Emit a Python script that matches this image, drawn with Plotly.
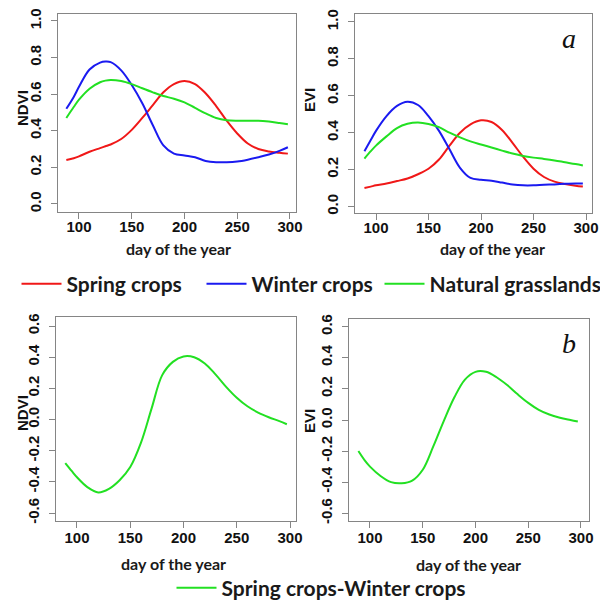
import plotly.graph_objects as go

# ---------------- data ----------------
days_top = [88, 95, 100, 110, 120, 125, 130, 140, 150, 160, 170, 180, 190, 200,
            210, 220, 230, 240, 250, 260, 270, 280, 290, 298]

ndvi_spring = [0.24, 0.25, 0.26, 0.285, 0.305, 0.315, 0.325, 0.355, 0.405, 0.47, 0.54, 0.61,
               0.655, 0.672, 0.655, 0.605, 0.535, 0.455, 0.385, 0.33, 0.30, 0.287, 0.28, 0.275]
ndvi_winter = [0.52, 0.585, 0.64, 0.735, 0.772, 0.778, 0.775, 0.73, 0.65, 0.55, 0.43, 0.32,
               0.275, 0.265, 0.255, 0.235, 0.228, 0.228, 0.232, 0.242, 0.255, 0.27, 0.29, 0.31]
ndvi_grass = [0.47, 0.53, 0.57, 0.63, 0.665, 0.674, 0.678, 0.672, 0.655, 0.632, 0.61, 0.59,
              0.575, 0.555, 0.525, 0.495, 0.47, 0.458, 0.455, 0.455, 0.455, 0.45, 0.442, 0.435]

days_evi = [89, 95, 100, 110, 120, 130, 140, 150, 160, 170, 180, 190, 200,
            210, 220, 230, 240, 250, 260, 270, 280, 290, 297]

evi_spring = [0.10, 0.108, 0.115, 0.125, 0.138, 0.152, 0.175, 0.205, 0.255, 0.33, 0.40, 0.445,
              0.467, 0.458, 0.415, 0.345, 0.27, 0.205, 0.16, 0.135, 0.122, 0.113, 0.108]
evi_winter = [0.30, 0.36, 0.41, 0.49, 0.545, 0.568, 0.55, 0.49, 0.41, 0.31, 0.21, 0.155,
              0.145, 0.14, 0.13, 0.12, 0.115, 0.115, 0.118, 0.12, 0.123, 0.125, 0.125]
evi_grass = [0.26, 0.30, 0.33, 0.38, 0.425, 0.448, 0.455, 0.447, 0.43, 0.40, 0.375, 0.353,
             0.336, 0.32, 0.303, 0.287, 0.274, 0.265, 0.258, 0.25, 0.24, 0.23, 0.222]

days_diff = [89, 95, 100, 110, 120, 130, 140, 150, 160, 170, 180, 190, 200,
             210, 220, 230, 240, 250, 260, 270, 280, 290, 297]
ndvi_diff = [-0.28, -0.33, -0.37, -0.435, -0.468, -0.445, -0.39, -0.305, -0.15, 0.07, 0.285,
             0.37, 0.405, 0.40, 0.36, 0.29, 0.21, 0.14, 0.085, 0.045, 0.015, -0.01, -0.03]
evi_diff = [-0.20, -0.26, -0.30, -0.36, -0.40, -0.407, -0.39, -0.32, -0.17, -0.005, 0.146,
            0.26, 0.31, 0.31, 0.275, 0.225, 0.165, 0.11, 0.065, 0.035, 0.015, 0.0, -0.01]

x_ticks = [100, 150, 200, 250, 300]
y_ticks_top = [0.0, 0.2, 0.4, 0.6, 0.8, 1.0]
y_ticks_top_text = ["0.0", "0.2", "0.4", "0.6", "0.8", "1.0"]
y_ticks_bot = [-0.6, -0.4, -0.2, 0.0, 0.2, 0.4, 0.6]
y_ticks_bot_text = ["-0.6", "-0.4", "-0.2", "0.0", "0.2", "0.4", "0.6"]

RED, BLUE, GREEN = "#f01818", "#1a1af0", "#22e022"

# the page body has an 8px default margin, so the figure is drawn 8px in from the window corner
OFF = 8
W, H = 608 - OFF, 601 - OFF

fig = go.Figure()

def add(x, y, color, name, xa, ya, legend, show):
    fig.add_trace(go.Scatter(x=x, y=y, mode="lines", name=name,
                             line=dict(color=color, width=2, shape="spline", smoothing=1.0),
                             xaxis=xa, yaxis=ya, legend=legend, showlegend=show))

add(days_top, ndvi_spring, RED, "Spring crops", "x", "y", "legend", True)
add(days_top, ndvi_winter, BLUE, "Winter crops", "x", "y", "legend2", True)
add(days_top, ndvi_grass, GREEN, "Natural grasslands", "x", "y", "legend3", True)
add(days_evi, evi_spring, RED, "Spring crops", "x2", "y2", "legend", False)
add(days_evi, evi_winter, BLUE, "Winter crops", "x2", "y2", "legend2", False)
add(days_evi, evi_grass, GREEN, "Natural grasslands", "x2", "y2", "legend3", False)
add(days_diff, ndvi_diff, GREEN, "Spring crops-Winter crops", "x3", "y3", "legend4", True)
add(days_diff, evi_diff, GREEN, "Spring crops-Winter crops", "x4", "y4", "legend4", False)

AXC = "#858585"
tickfont = dict(family="Liberation Sans, Arial", size=15, color="#111", weight="bold")

def xax(domain, rng, anchor, standoff):
    return dict(domain=domain, range=rng, anchor=anchor, tickvals=x_ticks,
                showline=True, linecolor=AXC, linewidth=1, mirror=True,
                ticks="outside", ticklen=6, tickcolor=AXC, tickfont=tickfont,
                showgrid=False, zeroline=False, automargin=False,
                ticklabelstandoff=standoff)

def yax(domain, rng, anchor, tv, tt):
    return dict(domain=domain, range=rng, anchor=anchor, tickvals=tv, ticktext=tt,
                showline=True, linecolor=AXC, linewidth=1, mirror=True,
                ticks="outside", ticklen=6, tickcolor=AXC, tickfont=tickfont,
                tickangle=-90, showgrid=False, zeroline=False, ticklabelstandoff=4,
                automargin=False)

def px(v):
    return (v - OFF) / W

def py(v):
    return 1 - (v - OFF) / H

def fx(a, b):
    return [px(a), px(b)]

def fy(top, bottom):
    return [py(bottom), py(top)]

legfont = dict(family="Lato", size=21, color="#1a1a1a", weight="bold")

def leg(xpix, ypix):
    return dict(orientation="h", x=px(xpix), xanchor="left", y=py(ypix), yanchor="middle",
                font=legfont, itemwidth=40, bgcolor="rgba(0,0,0,0)")

fig.update_layout(
    width=W, height=H,
    margin=dict(l=0, r=0, t=0, b=0, autoexpand=False),
    paper_bgcolor="white", plot_bgcolor="white",
    xaxis=xax(fx(58, 296), [80.1, 305.7], "y", -5),
    yaxis=yax(fy(14, 212), [-0.044, 1.038], "x", y_ticks_top, y_ticks_top_text),
    xaxis2=xax(fx(355, 592), [80.0, 305.7], "y2", -5),
    yaxis2=yax(fy(14, 213), [-0.035, 1.043], "x2", y_ticks_top, y_ticks_top_text),
    xaxis3=xax(fx(56, 296), [80.3, 305.6], "y3", -3),
    yaxis3=yax(fy(317, 521), [-0.651, 0.658], "x3", y_ticks_bot, y_ticks_bot_text),
    xaxis4=xax(fx(349, 589), [80.1, 307.6], "y4", -3),
    yaxis4=yax(fy(319, 521), [-0.65, 0.65], "x4", y_ticks_bot, y_ticks_bot_text),
    legend=leg(16.5, 284),
    legend2=leg(201.5, 284),
    legend3=leg(379.5, 284),
    legend4=leg(171.5, 588),
)

lab = dict(family="Lato", size=16, color="#1a1a1a", weight="bold")
ylab = dict(family="Liberation Sans, Arial", size=15, color="#111", weight="bold")
annots = [
    dict(text="day of the year", x=179, y=248, font=lab, textangle=0),
    dict(text="day of the year", x=492, y=248, font=lab, textangle=0),
    dict(text="day of the year", x=173, y=563, font=lab, textangle=0),
    dict(text="day of the year", x=468, y=564, font=lab, textangle=0),
    dict(text="NDVI", x=22, y=108, font=ylab, textangle=-90),
    dict(text="EVI", x=310, y=100, font=ylab, textangle=-90),
    dict(text="NDVI", x=22, y=413, font=ylab, textangle=-90),
    dict(text="EVI", x=309, y=421, font=ylab, textangle=-90),
    dict(text="<i>a</i>", x=569, y=38,
         font=dict(family="Liberation Serif, Times New Roman", size=28, color="#111"), textangle=0),
    dict(text="<i>b</i>", x=569, y=343,
         font=dict(family="Liberation Serif, Times New Roman", size=28, color="#111"), textangle=0),
]
for a in annots:
    fig.add_annotation(text=a["text"], x=px(a["x"]), y=py(a["y"]), xref="paper", yref="paper",
                       xanchor="center", yanchor="middle", showarrow=False,
                       font=a["font"], textangle=a["textangle"])

fig.write_html("out.html")
